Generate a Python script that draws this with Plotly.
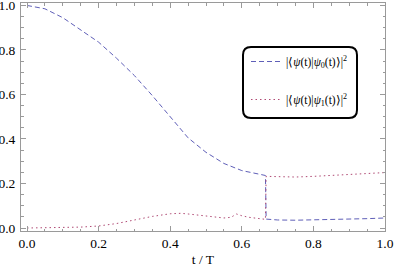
import plotly.graph_objects as go

# Data
t_blue = [0.0, 0.05, 0.1, 0.15, 0.2, 0.25, 0.3, 0.35, 0.4, 0.45, 0.5, 0.55, 0.6, 0.65, 0.666,
          0.668, 0.7, 0.75, 0.8, 0.85, 0.9, 0.95, 1.0]
p0 = [1.0, 0.985, 0.945, 0.89, 0.835, 0.763, 0.685, 0.595, 0.5, 0.405, 0.34, 0.29, 0.258, 0.24, 0.236,
      0.04, 0.036, 0.035, 0.036, 0.038, 0.04, 0.042, 0.045]

t_red = [0.0, 0.05, 0.1, 0.15, 0.2, 0.25, 0.3, 0.35, 0.4, 0.43, 0.45, 0.5, 0.55, 0.57, 0.585, 0.6,
         0.62, 0.65, 0.666, 0.668, 0.7, 0.75, 0.8, 0.85, 0.9, 0.95, 1.0]
p1 = [0.0, 0.0005, 0.002, 0.004, 0.009, 0.02, 0.036, 0.052, 0.064, 0.066, 0.063, 0.053, 0.045, 0.048,
      0.063, 0.055, 0.048, 0.042, 0.039, 0.232, 0.23, 0.229, 0.232, 0.237, 0.241, 0.245, 0.249]

x_ticks = [0.0, 0.2, 0.4, 0.6, 0.8, 1.0]
x_ticklabels = ["0.0", "0.2", "0.4", "0.6", "0.8", "1.0"]
y_ticks = [0.0, 0.2, 0.4, 0.6, 0.8, 1.0]
y_ticklabels = ["0.0", "0.2", "0.4", "0.6", "0.8", "1.0"]

name0 = "|⟨<i>ψ</i>(t)|<i>ψ</i><sub>0</sub>(t)⟩|<sup>2</sup>"
name1 = "|⟨<i>ψ</i>(t)|<i>ψ</i><sub>1</sub>(t)⟩|<sup>2</sup>"

BLUE = "#5f5fb8"
RED = "#b04a74"
FRAME = "#9a9a9a"
FONT = "'Liberation Serif', 'Times New Roman', serif"

fig = go.Figure()
fig.add_trace(go.Scatter(x=t_blue, y=p0, mode="lines", name=name0, legendgroup="a",
                         line=dict(color=BLUE, width=1, dash="5px,3px")))
fig.add_trace(go.Scatter(x=t_red, y=p1, mode="lines", name=name1, legendgroup="b",
                         line=dict(color=RED, width=1, dash="1.5px,3px")))

W, H = 395, 270
ml, mr, mt, mb = 21, 10, 3, 39
pw, ph = W - ml - mr, H - mt - mb

def px(x):
    return (x - ml) / pw

def py(y):
    return (H - mb - y) / ph

x0, x1 = px(243), px(357)
y0, y1 = py(118), py(47)
rx, ry = 8 / pw, 8 / ph
path = (f"M{x0+rx},{y0} L{x1-rx},{y0} Q{x1},{y0} {x1},{y0+ry} L{x1},{y1-ry} Q{x1},{y1} {x1-rx},{y1} "
        f"L{x0+rx},{y1} Q{x0},{y1} {x0},{y1-ry} L{x0},{y0+ry} Q{x0},{y0} {x0+rx},{y0} Z")

axis_common = dict(showgrid=False, zeroline=False, showline=True, linecolor=FRAME, linewidth=1,
                   mirror="allticks", ticks="inside", ticklen=5, tickcolor=FRAME, tickwidth=1,
                   automargin=False, ticklabeloverflow="allow",
                   tickfont=dict(family=FONT, size=13.5, color="black"))

fig.update_layout(
    width=W, height=H,
    margin=dict(l=ml, r=mr, t=mt, b=mb),
    plot_bgcolor="white", paper_bgcolor="white",
    font=dict(family=FONT, size=12, color="black"),
    xaxis=dict(range=[-0.0168, 1.0], tickvals=x_ticks, ticktext=x_ticklabels,
               minor=dict(dtick=0.05, ticks="inside", ticklen=2.5, tickcolor=FRAME, showgrid=False),
               title=dict(text="t / T", font=dict(family=FONT, size=13.5), standoff=4),
               **axis_common),
    yaxis=dict(range=[-0.0135, 1.011], tickvals=y_ticks, ticktext=y_ticklabels,
               minor=dict(dtick=0.05, ticks="inside", ticklen=2.5, tickcolor=FRAME, showgrid=False),
               ticklabelstandoff=2,
               **axis_common),
    legend=dict(x=px(246), y=py(47), xanchor="left", yanchor="top",
                bgcolor="rgba(0,0,0,0)", borderwidth=0, tracegroupgap=19,
                font=dict(family=FONT, size=11.5)),
    shapes=[dict(type="path", xref="paper", yref="paper", path=path,
                 line=dict(color="black", width=2), fillcolor="rgba(0,0,0,0)", layer="above")],
)

fig.write_html("out.html", config={"displayModeBar": False},
               post_script="document.body.style.margin='0';document.body.style.overflow='hidden';")
